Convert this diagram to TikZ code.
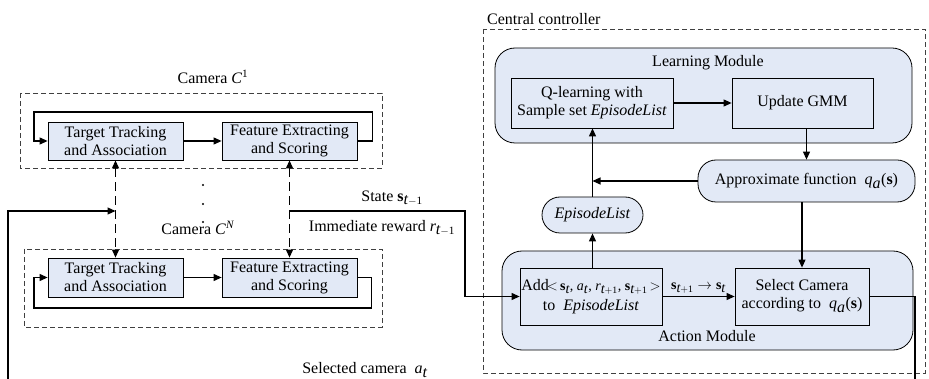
\documentclass[tikz,border=0pt]{standalone}
\usepackage{fontspec}
\setmainfont{Liberation Serif}
\usetikzlibrary{arrows.meta}
\definecolor{boxfill}{RGB}{226,233,246}
\newcommand\vs{\textbf{s}}
\newcommand\ti[1]{\textit{#1}}
\tikzset{
  base/.style={font=\fontsize{16}{18}\selectfont, align=center, inner sep=0pt},
  pbox/.style={base, draw, fill=boxfill, line width=0.8pt},
  rbox/.style={base, draw, fill=boxfill, line width=0.8pt, rounded corners=18pt},
  grp/.style={draw=black!75, dashed, dash pattern=on 5pt off 3pt, line width=0.8pt},
  conn/.style={line width=1.1pt, -{Triangle[length=8pt,width=7pt]}},
  plain/.style={line width=1.1pt},
  dconn/.style={line width=1.1pt, dash pattern=on 9pt off 5pt, {Triangle[length=8pt,width=7pt]}-{Triangle[length=8pt,width=7pt]}},
  lbl/.style={base},
}
\begin{document}
\begin{tikzpicture}[x=1pt,y=-1pt]
\useasboundingbox (0,0) rectangle (929,379);

% ---------- Cameras ----------
\draw[grp] (20,93) rectangle (382,168);
\node[lbl] (c1lab) at (213,77) {Camera \ti{C}\textsuperscript{1}};
\node[pbox, minimum width=135pt, minimum height=38pt] (tt1) at (115.5,141) {Target Tracking\\and Association};
\node[pbox, minimum width=135pt, minimum height=38pt] (fe1) at (289.5,141) {Feature Extracting\\and Scoring};
\draw[conn] (tt1) -- (fe1);
\draw[conn] (fe1.east) -- ++(15,0) |- (34,112) |- (tt1.west);

\draw[grp] (24,249) rectangle (382,327);
\node[lbl] (cNlab) at (198,228) {Camera \ti{C}\textsuperscript{\ti{N}}};
\node[pbox, minimum width=135pt, minimum height=39pt] (ttN) at (115.5,277.5) {Target Tracking\\and Association};
\node[pbox, minimum width=135pt, minimum height=39pt] (feN) at (289.5,277.5) {Feature Extracting\\and Scoring};
\draw[conn] (ttN) -- (feN);
\draw[conn] (feN.east) -- ++(14,0) |- (34,308) |- (ttN.west);

\draw[dconn] (tt1.south) -- (ttN.north);
\draw[dconn] (fe1.south) -- (feN.north);

\foreach \yy in {185,204,222} \fill (203,\yy) circle (1.1pt);

% ---------- Central controller ----------
\draw[grp] (483,29) rectangle (925,373);
\node[base, font=\fontsize{16}{17}\selectfont, anchor=west] (cclab) at (487,19) {Central controller};

\draw[line width=0.8pt, fill=boxfill, rounded corners=20pt] (495,48) rectangle (912,143);
\node[lbl] (lmlab) at (708,63) {Learning Module};
\node[pbox, minimum width=162pt, minimum height=50pt] (ql) at (592,103) {Q-learning with\\Sample set \ti{EpisodeList}};
\node[pbox, minimum width=141pt, minimum height=50pt] (gmm) at (802.5,103) {Update GMM};
\draw[conn] (ql) -- (gmm);

\node[rbox, minimum width=217pt, minimum height=42pt] (apx) at (806.5,181) {Approximate function\ \ $\ti{q}_{\ti{a}}$(\vs)};
\draw[conn] (gmm.south -| apx.north) -- (apx.north);

\node[rbox, minimum width=101pt, minimum height=36pt] (epl) at (592.5,215) {\ti{EpisodeList}};

\draw[line width=0.8pt, fill=boxfill, rounded corners=20pt] (502,251) rectangle (913,350);
\node[lbl] (amlab) at (707,336) {Action Module};
\node[pbox, minimum width=142pt, minimum height=57pt] (add) at (591,296.5)
  {Add\hspace{-2pt}{\fontsize{14}{15}\selectfont$<$\,$\vs_{\ti{t}}$, $\ti{a}_{\ti{t}}$, $\ti{r}_{\ti{t}\mathrm{+1}}$, $\vs_{\ti{t}\mathrm{+1}}$\,$>$}\\[2pt]to\ \ \ti{EpisodeList}\hspace{22pt}};
\node[pbox, minimum width=134pt, minimum height=57pt] (sel) at (802,296.5) {Select Camera\\according to\ \ $\ti{q}_{\ti{a}}$(\vs)};
\draw[conn] (add) -- node[above, base, font=\fontsize{14}{15}\selectfont, yshift=3pt] (stlab) {$\vs_{\ti{t}\mathrm{+1}}\rightarrow\vs_{\ti{t}}$} (sel);
\draw[conn] (apx.south -| sel.north) -- (sel.north);
\draw[conn] (add.north -| epl.south) -- (epl.south);
\draw[conn] (epl.north) -- (epl.north |- ql.south);
\coordinate (jn) at (epl.north |- apx.west);
\draw[conn] (apx.west) -- (jn);

% ---------- External connections ----------
\coordinate (inL) at (tt1.south |- 0,211);
\coordinate (inR) at (fe1.south |- 0,211);
\draw[conn] (8,379) -- (8,211) -- (inL);
\draw[conn] (inR) -- (465,211) |- (add.west);
\draw[plain] (sel.east) -- (915,296.5) -- (915,379);

\node[lbl] (stt) at (392,198) {State $\vs_{\ti{t}\mathrm{-1}}$};
\node[lbl] (rew) at (382,228) {Immediate reward $\ti{r}_{\ti{t}\mathrm{-1}}$};
\node[lbl] (sela) at (365,370) {Selected camera\ \ $\ti{a}_{\ti{t}}$};
\end{tikzpicture}
\end{document}
